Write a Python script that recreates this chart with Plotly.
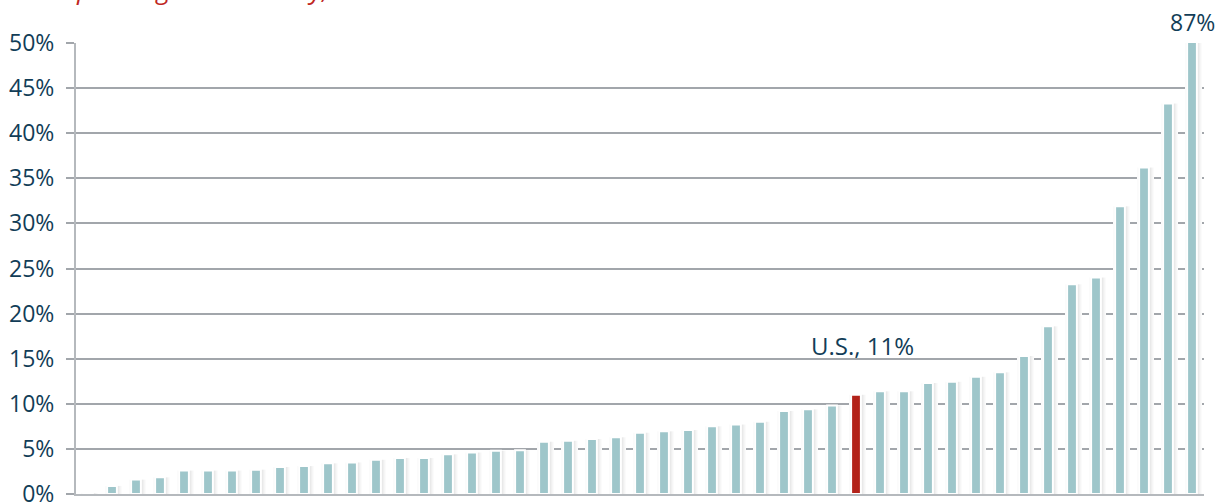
import plotly.graph_objects as go

# Data (percent), sorted ascending; one highlighted bar is the U.S.
values = [0.1, 0.9, 1.6, 1.85, 2.6, 2.6, 2.6, 2.7, 3.0, 3.1, 3.4, 3.5, 3.8, 4.0, 4.0,
          4.4, 4.6, 4.8, 4.85, 5.8, 5.9, 6.1, 6.3, 6.8, 6.95, 7.1, 7.5, 7.7, 8.0,
          9.2, 9.4, 9.8, 11.0, 11.4, 11.4, 12.3, 12.45, 13.0, 13.5, 15.3, 18.6,
          23.25, 24.0, 31.9, 36.2, 43.3, 87.0]
us_index = 32
us_label = "U.S., 11%"
max_label = "87%"
title_text = "Spending on Electricity, Total"
y_ticks = [0, 5, 10, 15, 20, 25, 30, 35, 40, 45, 50]

x = list(range(len(values)))
TEAL = "#9ec6ca"
RED = "#b3231a"
NAVY = "#123d57"
GRID = "#a2a6ab"
PX = 1 / 24.0  # one category = 24 px

colors = [RED if i == us_index else TEAL for i in x]

fig = go.Figure()
# shadows
fig.add_trace(go.Bar(x=x, y=values, width=17 * PX, offset=-7 * PX,
                     marker=dict(color="white", line=dict(width=0)), hoverinfo="skip"))
fig.add_trace(go.Bar(x=x, y=values, width=16 * PX, offset=-6.5 * PX,
                     marker=dict(color="rgba(0,0,0,0.035)", line=dict(width=0)), hoverinfo="skip"))
fig.add_trace(go.Bar(x=x, y=values, width=13.5 * PX, offset=-6 * PX,
                     marker=dict(color="rgba(0,0,0,0.05)", line=dict(width=0)), hoverinfo="skip"))
fig.add_trace(go.Bar(x=x, y=values, width=11 * PX, offset=-5.5 * PX,
                     marker=dict(color="rgba(0,0,0,0.07)", line=dict(width=0)), hoverinfo="skip"))
# main bars
fig.add_trace(go.Bar(x=x, y=values, width=9.8 * PX, offset=-4.9 * PX,
                     marker=dict(color=colors, line=dict(color="white", width=2))))

fig.add_annotation(x=us_index, y=16.5, xref="x", yref="y", text=us_label, showarrow=False,
                   xshift=6, font=dict(family="Open Sans", size=24, color=NAVY),
                   xanchor="center", yanchor="middle")
fig.add_annotation(x=len(values) - 1, y=50, xref="x", yref="y", text=max_label, showarrow=False,
                   xshift=0, yshift=21, font=dict(family="Open Sans", size=23, color=NAVY),
                   xanchor="center", yanchor="middle")
fig.add_annotation(x=-0.012, y=1.076, xref="paper", yref="paper", text=title_text,
                   showarrow=False, xanchor="left", yanchor="bottom",
                   font=dict(family="Open Sans", size=26, color="#c0271f", style="italic"))

fig.update_layout(
    width=1222, height=504,
    margin=dict(l=76, r=18, t=43, b=10, autoexpand=False),
    paper_bgcolor="white", plot_bgcolor="white",
    barmode="overlay", showlegend=False,
    xaxis=dict(range=[-0.5, len(values) - 0.5], showticklabels=False, showgrid=False,
               zeroline=False, showline=True, linecolor="#b5b9bd", linewidth=2, ticks="",
               automargin=False),
    yaxis=dict(range=[0, 50], tickvals=y_ticks, ticktext=[f"{v}%" for v in y_ticks],
               showgrid=True, gridcolor=GRID, gridwidth=1.5, zeroline=False,
               showline=True, linecolor="#b5b9bd", linewidth=2,
               ticks="outside", ticklen=8, tickcolor=GRID, tickwidth=1.5,
               ticklabelstandoff=7, automargin=False, ticklabeloverflow="allow",
               tickfont=dict(family="Open Sans", size=23, color=NAVY)),
)

fig.write_html("out.html", config={"displayModeBar": False},
               post_script="document.body.style.margin='0px';")
